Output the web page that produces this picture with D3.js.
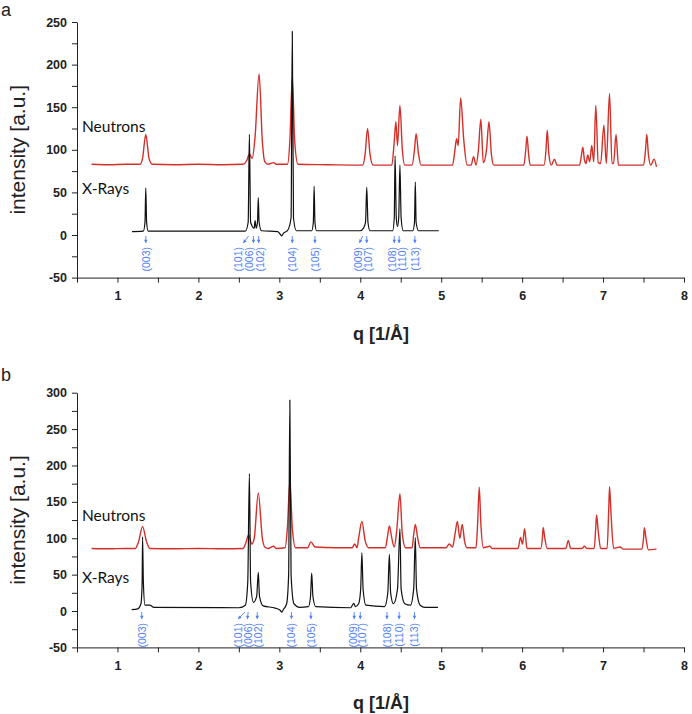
<!DOCTYPE html>
<html><head><meta charset="utf-8">
<script src="https://cdn.jsdelivr.net/npm/d3@7"></script>
<style>body{margin:0;background:#fff}svg{display:block}</style>
</head><body>
<svg id="chart" width="692" height="714"></svg>
<script>
// ---------- data ----------
const xTickValues = [1, 2, 3, 4, 5, 6, 7, 8];
const yTickValuesA = [-50, 0, 50, 100, 150, 200, 250];
const yTickValuesB = [-50, 0, 50, 100, 150, 200, 250, 300];
const seriesNames = ["Neutrons", "X-Rays"];
const panelLetters = ["a", "b"];
const xTitle = "q [1/Å]";
const yTitle = "intensity [a.u.]";

// panel a – neutrons [q, intensity]
const neutronsA = [[0.68,83],[0.9,82.5],[1.1,83],[1.28,83],[1.31,90],[1.35,118],[1.39,90],[1.43,83],
[1.7,82.5],[2.0,83],[2.3,82.5],[2.55,83],[2.60,88],[2.63,95],[2.665,90],[2.70,115],[2.75,189],[2.79,110],[2.82,86],[2.86,83],
[2.93,85],[2.96,83],[3.10,83],[3.13,110],[3.16,185],[3.19,110],[3.23,83],[3.6,82.5],
[4.03,82],[4.06,95],[4.09,125],[4.12,95],[4.16,82],
[4.39,82],[4.42,110],[4.44,133],[4.46,105],[4.49,152],[4.52,100],[4.55,82],
[4.64,82],[4.67,100],[4.69,119],[4.72,95],[4.75,82],
[5.14,82],[5.17,100],[5.19,113],[5.21,105],[5.24,161],[5.28,110],[5.32,82],
[5.37,82],[5.40,92],[5.43,82],[5.46,100],[5.49,136],[5.52,85],[5.56,100],[5.59,133],[5.62,95],[5.65,82],
[6.02,82],[6.045,100],[6.06,116],[6.08,95],[6.10,82],
[6.27,82],[6.295,100],[6.31,123],[6.33,95],[6.36,82],[6.40,89],[6.43,82],
[6.71,82],[6.735,95],[6.75,103],[6.77,88],[6.79,84],[6.81,94],[6.835,86],[6.86,105],[6.885,86],[6.91,152],[6.94,85],[6.97,84],[7.01,129],[7.04,84],[7.08,166],[7.11,84],[7.13,84],[7.16,118],[7.19,82],
[7.50,82],[7.525,100],[7.54,118],[7.56,95],[7.59,82],[7.63,89],[7.66,80]];

// panel a – x-rays
const xraysA = [[1.18,4],[1.32,4.5],[1.34,15],[1.35,55],[1.36,15],[1.38,4.5],
[2.58,4.5],[2.615,15],[2.63,118],[2.645,15],[2.69,8],[2.70,17],[2.715,8],[2.73,15],[2.74,44],[2.75,15],[2.78,5],
[2.98,4],[3.01,1],[3.03,-1],[3.05,2],[3.10,5],[3.145,20],[3.16,239],[3.175,20],[3.21,5],
[3.40,5],[3.42,15],[3.43,57],[3.44,15],[3.46,5],
[4.00,5],[4.04,8],[4.065,15],[4.08,56],[4.095,15],[4.12,5],
[4.40,5],[4.42,20],[4.43,93],[4.445,20],[4.46,10],[4.475,20],[4.49,82],[4.505,20],[4.53,5],
[4.65,5],[4.67,15],[4.68,62],[4.69,15],[4.72,5],[4.97,5]];

// panel b – neutrons
const neutronsB = [[0.68,86],[0.9,85.5],[1.1,86],[1.22,86],[1.26,95],[1.31,116],[1.36,95],[1.40,86],
[1.7,85.5],[2.0,86],[2.3,85.5],[2.55,86],[2.59,95],[2.62,105],[2.66,92],[2.69,100],[2.74,162],[2.79,100],[2.82,88],[2.86,86],
[2.93,89],[2.96,86],[3.07,87],[3.10,115],[3.13,178],[3.16,115],[3.20,87],
[3.35,87],[3.39,95],[3.44,88],[3.7,87],
[3.90,87],[3.93,92],[3.96,87],[3.98,100],[4.02,123],[4.06,97],[4.10,87],
[4.31,87],[4.34,105],[4.36,117],[4.39,100],[4.42,88],[4.45,110],[4.49,161],[4.52,105],[4.56,87],
[4.64,87],[4.66,105],[4.68,119],[4.71,100],[4.74,87],
[5.06,87],[5.10,92],[5.14,88],[5.17,105],[5.20,123],[5.23,100],[5.26,119],[5.29,95],[5.32,87],
[5.43,87],[5.45,120],[5.47,170],[5.49,120],[5.52,87],[5.60,89],[5.63,86],
[5.95,86],[5.98,101],[6.005,92],[6.03,113],[6.06,86],
[6.23,86],[6.25,100],[6.26,115],[6.28,100],[6.31,86],
[6.54,86],[6.57,97],[6.60,86],[6.74,86],[6.77,89],[6.80,86],
[6.89,86],[6.91,115],[6.92,132],[6.94,110],[6.97,86],
[7.05,86],[7.07,140],[7.08,171],[7.10,130],[7.13,86],[7.21,88],[7.25,85],
[7.48,85],[7.50,100],[7.51,114.5],[7.53,100],[7.56,84],[7.66,85]];

// panel b – x-rays
const xraysB = [[1.175,2],[1.25,3],[1.29,10],[1.305,40],[1.31,102],[1.32,40],[1.34,8],[1.40,8],[1.45,5],
[2.50,4.5],[2.58,8],[2.61,40],[2.63,189],[2.645,40],[2.68,12],[2.72,20],[2.74,53],[2.755,20],[2.80,7],
[2.95,4],[3.01,1],[3.03,-1.5],[3.05,2],[3.09,10],[3.115,50],[3.13,290],[3.145,50],[3.18,10],[3.25,5],
[3.36,6],[3.385,20],[3.40,52],[3.415,20],[3.45,6],
[3.88,4.5],[3.92,10.5],[3.94,6],[3.98,10],[4.005,30],[4.02,80],[4.035,30],[4.07,8],
[4.30,6],[4.34,25],[4.36,78],[4.375,25],[4.41,10],[4.46,30],[4.49,113],[4.505,30],[4.55,10],
[4.62,8],[4.66,30],[4.68,101],[4.695,30],[4.74,8],[4.80,5],[4.96,5]];

// Miller-index reflections
const hklLabels = ["(003)","(101)","(006)","(102)","(104)","(105)","(009)","(107)","(108)","(110)","(113)"];
const hklTailA  = [1.35, 2.62, 2.68, 2.745, 3.16, 3.44, 4.03, 4.08, 4.42, 4.48, 4.675];
const hklTipA   = [1.35, 2.555, 2.68, 2.745, 3.16, 3.44, 3.99, 4.08, 4.42, 4.48, 4.675];
const hklTextA  = [1.35, 2.49, 2.62, 2.76, 3.16, 3.44, 3.97, 4.09, 4.39, 4.51, 4.675];
const hklTailB  = [1.30, 2.575, 2.615, 2.727, 3.15, 3.39, 3.925, 4.00, 4.33, 4.48, 4.67];
const hklTipB   = [1.30, 2.49, 2.605, 2.727, 3.15, 3.39, 3.925, 4.00, 4.33, 4.48, 4.67];
const hklTextB  = [1.30, 2.49, 2.616, 2.74, 3.15, 3.39, 3.91, 4.02, 4.33, 4.48, 4.67];

// ---------- drawing ----------
const svg = d3.select("#chart");
svg.append("rect").attr("width",692).attr("height",714).attr("fill","#fff");

const RED = "#d3302a", BLACK = "#111", BLUE = "#4f7ff5";
const x = d3.scaleLinear().domain([0.5, 8]).range([77, 684]);

const panels = [
  {letter: panelLetters[0], yTicks: yTickValuesA, range: [277.6, 22], neutrons: neutronsA, xrays: xraysA,
   tail: hklTailA, tip: hklTipA, text: hklTextA, letterY: 16, nY: 126, xrY: 188},
  {letter: panelLetters[1], yTicks: yTickValuesB, range: [647.4, 392.7], neutrons: neutronsB, xrays: xraysB,
   tail: hklTailB, tip: hklTipB, text: hklTextB, letterY: 381, nY: 515, xrY: 577}
];

panels.forEach(p => {
  const y = d3.scaleLinear().domain([p.yTicks[0], p.yTicks[p.yTicks.length-1]]).range(p.range);
  const g = svg.append("g");

  // axes
  const xAxis = d3.axisBottom(x).tickValues(d3.range(0.5, 8.01, 0.5))
    .tickFormat(d => xTickValues.includes(d) ? d : "").tickSize(5).tickSizeOuter(0).tickPadding(9);
  const yAxis = d3.axisLeft(y).tickValues(d3.range(p.yTicks[0], p.yTicks[p.yTicks.length-1] + 1, 25))
    .tickFormat(d => p.yTicks.includes(d) ? d : "").tickSize(5).tickSizeOuter(0).tickPadding(5);

  const gx = g.append("g").attr("transform", `translate(0,${p.range[0]})`).call(xAxis);
  const gy = g.append("g").attr("transform", `translate(${x.range()[0]},0)`).call(yAxis);
  [gx, gy].forEach(a => {
    a.selectAll("path,line").attr("stroke", "#222").attr("stroke-width", 1);
    a.selectAll("text").attr("fill", "#222").style("font-family", "'Liberation Sans', Arial, sans-serif")
      .style("font-size", "12.5px").style("font-weight", "bold");
  });

  // titles
  g.append("text").attr("x", 381).attr("y", p.range[0] + 62).attr("text-anchor", "middle")
    .style("font-family", "'Liberation Sans', Arial, sans-serif").style("font-size", "18px").style("font-weight", "bold")
    .attr("fill", "#222").text(xTitle);
  const yMid = (p.range[0] + p.range[1]) / 2;
  g.append("text").attr("transform", `translate(25,${yMid}) rotate(-90)`).attr("text-anchor", "middle")
    .style("font-family", "'Liberation Sans', Arial, sans-serif").style("font-size", "21px")
    .attr("fill", "#222").text(yTitle);
  g.append("text").attr("x", 1).attr("y", p.letterY).style("font-family", "'Liberation Sans', Arial, sans-serif")
    .style("font-size", "18px").attr("fill", "#222").text(p.letter);

  // series labels
  g.append("text").attr("x", 82).attr("y", p.nY).attr("dominant-baseline", "central")
    .style("font-family", "Lato, 'Open Sans', sans-serif").style("font-size", "15.5px").attr("fill", "#111").text(seriesNames[0]);
  g.append("text").attr("x", 82).attr("y", p.xrY).attr("dominant-baseline", "central")
    .style("font-family", "Lato, 'Open Sans', sans-serif").style("font-size", "15.5px").attr("fill", "#111").text(seriesNames[1]);

  // lines
  const line = d3.line().x(d => x(d[0])).y(d => y(d[1])).curve(d3.curveMonotoneX);
  g.append("path").datum(p.neutrons).attr("d", line).attr("fill", "none").attr("stroke", RED).attr("stroke-width", 1.4)
    .attr("stroke-linejoin", "round");
  g.append("path").datum(p.xrays).attr("d", line).attr("fill", "none").attr("stroke", BLACK).attr("stroke-width", 1.2)
    .attr("stroke-linejoin", "round");

  // reflection arrows + labels
  const y0 = y(0);
  hklLabels.forEach((lab, i) => {
    const x1 = x(p.tail[i]), x2 = x(p.tip[i]);
    const y1 = y0 + 1, y2 = y0 + 8;
    const ang = Math.atan2(y2 - y1, x2 - x1);
    g.append("line").attr("x1", x1).attr("y1", y1).attr("x2", x2).attr("y2", y2)
      .attr("stroke", BLUE).attr("stroke-width", 0.9);
    const h = 3.2, w = 1.8;
    const bx = x2 - h * Math.cos(ang), by = y2 - h * Math.sin(ang);
    const pts = [[x2, y2], [bx + w * Math.sin(ang), by - w * Math.cos(ang)], [bx - w * Math.sin(ang), by + w * Math.cos(ang)]];
    g.append("path").attr("d", d3.line()(pts) + "Z").attr("fill", BLUE);
    g.append("text").attr("transform", `translate(${x(p.text[i])},${y0 + 12}) rotate(-90)`)
      .attr("text-anchor", "end").attr("dominant-baseline", "central")
      .style("font-family", "'Liberation Sans', Arial, sans-serif").style("font-size", "10.5px")
      .attr("fill", BLUE).text(lab);
  });
});
</script>
</body></html>
